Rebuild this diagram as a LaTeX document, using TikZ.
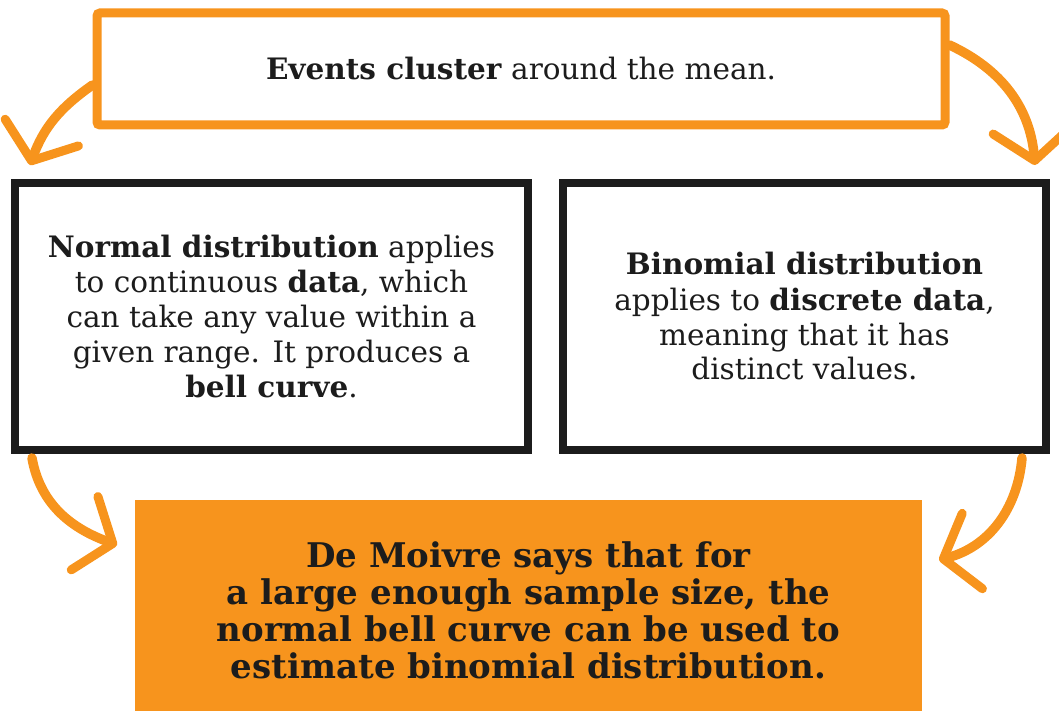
\documentclass[tikz,border=0pt]{standalone}
\usepackage{fontspec}
\setmainfont{DejaVu Serif}
\usetikzlibrary{arrows.meta,positioning}
\definecolor{corange}{HTML}{F7941D}
\definecolor{cink}{HTML}{1C1C1C}
\tikzset{
  box/.style={rectangle, align=center, inner sep=0pt, font=\fontsize{29.5}{35}\selectfont, text=cink},
  obox/.style={box, draw=corange, line width=9pt, rounded corners=3pt},
  kbox/.style={box, draw=cink, line width=8pt},
  fbox/.style={box, fill=corange, font=\bfseries\fontsize{34}{37}\selectfont},
  flow/.style={draw=corange, line width=9.5pt, line cap=round, -{Straight Barb[length=30pt, width=78pt, line width=9pt, round]}},
}
\begin{document}
\begin{tikzpicture}[x=1pt,y=-1pt]
\useasboundingbox (0,0) rectangle (1059,711);
\node[obox, minimum width=848pt, minimum height=112pt] (events) at (521,69)
  {\textbf{Events cluster} around the mean.};
\node[kbox, minimum width=513pt, minimum height=267pt] (normal) at (271.5,316.5)
  {\textbf{Normal distribution} applies\\ to continuous \textbf{data}, which\\ can take any value within a\\ given range. It produces a\\ \textbf{bell curve}.};
\node[kbox, minimum width=483pt, minimum height=267pt] (binom) at (804.5,316.5)
  {\textbf{Binomial distribution}\\ applies to \textbf{discrete data},\\ meaning that it has\\ distinct values.};
\node[fbox, minimum width=787pt, minimum height=220pt] (moivre) at (528.5,610)
  {De Moivre says that for\\ a large enough sample size, the\\ normal bell curve can be used to\\ estimate binomial distribution.};
% arrow ends
\coordinate (tl) at (30,165);
\coordinate (tr) at (1035,165);
\coordinate (bl) at (117,545);
\coordinate (br) at (939,560);
\draw[flow] ([yshift=-16pt]events.west) to[out=215, in=70] (tl);
\draw[flow] ([yshift=24pt]events.east) to[out=-25, in=95] (tr);
\draw[flow] (normal.south west -| 32,0) ++(0,4) to[out=-80, in=160] (bl);
\draw[flow] (binom.south east -| 1022,0) ++(0,4) to[out=-95, in=15] (br);
\end{tikzpicture}
\end{document}
